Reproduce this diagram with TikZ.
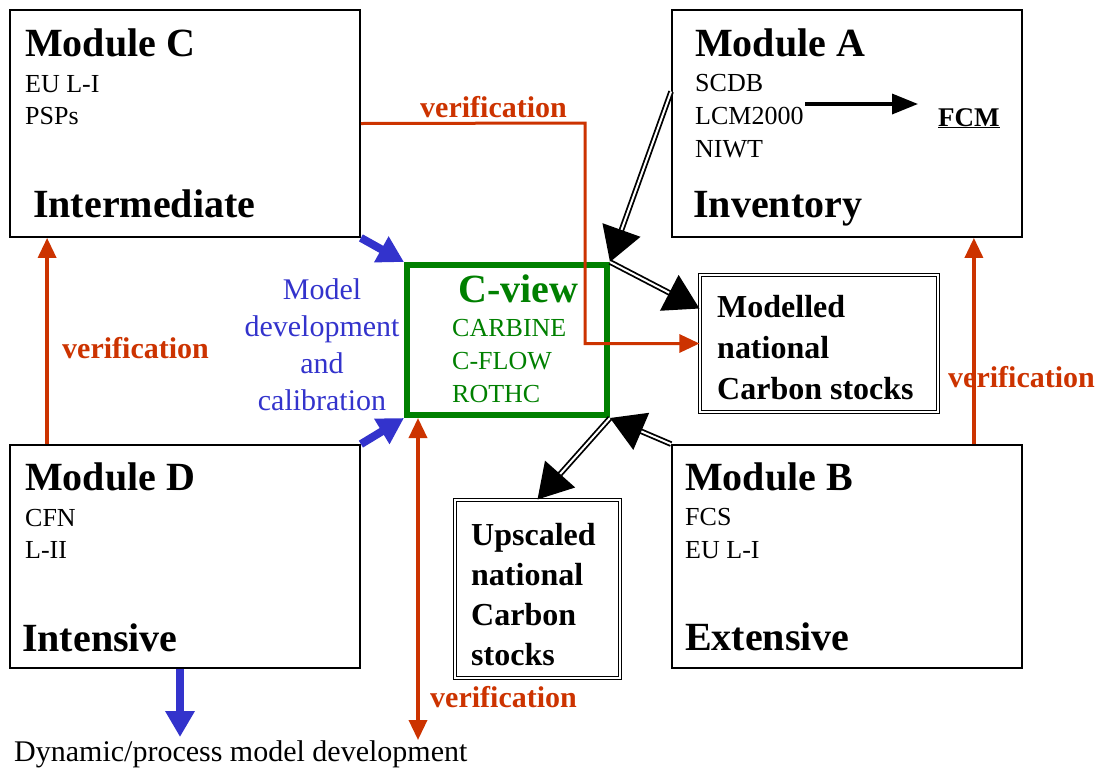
\documentclass[tikz,border=0pt]{standalone}
\usepackage{fontspec}
\setmainfont{Liberation Serif}
\usetikzlibrary{arrows.meta, positioning}

\definecolor{verired}{RGB}{204,51,0}
\definecolor{calblue}{RGB}{51,51,204}
\definecolor{cvgreen}{RGB}{0,128,0}

\begin{document}
\begin{tikzpicture}[
    x=1pt, y=-1pt,
    module/.style={draw, line width=1.8pt, inner sep=0pt, minimum width=350pt},
    stockbox/.style={draw, double, double distance=2.2pt, line width=1.1pt, inner sep=0pt},
    title/.style={anchor=base west, inner sep=0pt, font=\fontsize{40}{44}\selectfont\bfseries},
    items/.style={anchor=base west, inner sep=0pt, align=left, font=\fontsize{26}{33}\selectfont},
    stocktext/.style={anchor=base west, inner sep=0pt, align=left, font=\fontsize{32}{41}\selectfont\bfseries},
    verify/.style={anchor=base west, inner sep=0pt, text=verired, font=\fontsize{30}{34}\selectfont\bfseries},
    redarrow/.style={draw=verired, line width=3.5pt, -{Triangle[length=20pt, width=18pt]}},
    bluearrow/.style={draw=calblue, line width=8pt, -{Triangle[length=26pt, width=28pt]}},
    feed/.style={double=white, double distance=2pt, line width=1.8pt, -{Triangle[length=34pt, width=40pt]}},
]
\useasboundingbox (0,0) rectangle (1098,772);

% Four measurement modules
\node[module, minimum height=227pt] (modC) at (185,123.5) {};
\node[module, minimum height=227pt] (modA) at (847,123.5) {};
\node[module, minimum height=223pt] (modD) at (185,556.5) {};
\node[module, minimum height=223pt] (modB) at (847,556.5) {};

% (multi-line items sit on their last baseline)
\node[title] at (25,56) {Module C};
\node[items, font=\fontsize{26}{32}\selectfont] at (25,124) {EU L-I\\PSPs};
\node[title] at (33,217) {Intermediate};

\node[title] at (695,56) {Module A};
\node[items] at (695,157) {SCDB\\LCM2000\\NIWT};
\node[title] at (693,217) {Inventory};
\node[anchor=base west, inner sep=0pt, font=\fontsize{27}{30}\selectfont\bfseries] (fcm) at (938,126) {\underline{FCM}};

\node[title] at (25,490) {Module D};
\node[items, font=\fontsize{26}{32}\selectfont] at (25,558) {CFN\\L-II};
\node[title] at (22,651) {Intensive};

\node[title] at (685,490) {Module B};
\node[items] at (685,558) {FCS\\EU L-I};
\node[title] at (685,650) {Extensive};

% Model core
\node[draw=cvgreen, line width=6pt, inner sep=0pt, minimum width=200pt, minimum height=150pt] (cview) at (507,340) {};
\node[title, text=cvgreen] at (458,302) {C-view};
\node[items, text=cvgreen] at (452,402) {CARBINE\\C-FLOW\\ROTHC};

% Output stocks
\node[stockbox, minimum width=238pt, minimum height=137pt] (modelled) at (819,343.5) {};
\node[stocktext] at (717,399) {Modelled\\national\\Carbon stocks};
\node[stockbox, minimum width=165pt, minimum height=178pt] (upscaled) at (537.5,589) {};
\node[stocktext, font=\fontsize{32}{40}\selectfont\bfseries] at (471,665) {Upscaled\\national\\Carbon\\stocks};

\node[align=center, inner sep=0pt, text=calblue, font=\fontsize{30}{37}\selectfont] (calib) at (322,345) {Model\\development\\and\\calibration};
\node[anchor=base west, inner sep=0pt, font=\fontsize{30}{34}\selectfont] (dyn) at (14,761) {Dynamic/process model development};

\coordinate (vbend) at (585,123);
\coordinate (vbot) at (418,740);
\coordinate (dynend) at (180,737);
\coordinate (lcm) at (805,104);

% Verification links
\draw[redarrow, line width=3pt] (modC.east) -- (vbend) |- (modelled.west);
\node[verify] at (420,117) {verification};
\draw[redarrow] ([xshift=38pt]modD.north west) -- ([xshift=38pt]modC.south west);
\node[verify] at (62,358) {verification};
\draw[redarrow] ([xshift=-49pt]modB.north east) -- ([xshift=-49pt]modA.south east);
\node[verify] at (948,387) {verification};
\draw[redarrow, {Triangle[length=20pt, width=18pt]}-{Triangle[length=20pt, width=18pt]}] ([xshift=14pt]cview.south west) -- (vbot);
\node[verify] at (430,707) {verification};

% Calibration and development
\draw[bluearrow] (modC.south east) -- (cview.north west);
\draw[bluearrow] (modD.north east) -- (cview.south west);
\draw[bluearrow] ([xshift=-5pt]modD.south) -- (dynend);

% Data flows
\draw[feed] ([yshift=32pt]modA.west) -- (cview.north east);
\draw[feed] (cview.north east) -- ([yshift=35pt]modelled.west);
\draw[feed] (cview.south east) -- (upscaled.north);
\draw[feed] (modB.north west) -- (cview.south east);
\draw[line width=3.5pt, -{Triangle[length=26pt, width=20pt]}, shorten >=20pt] (lcm) -- (lcm -| fcm.west);

\end{tikzpicture}
\end{document}
